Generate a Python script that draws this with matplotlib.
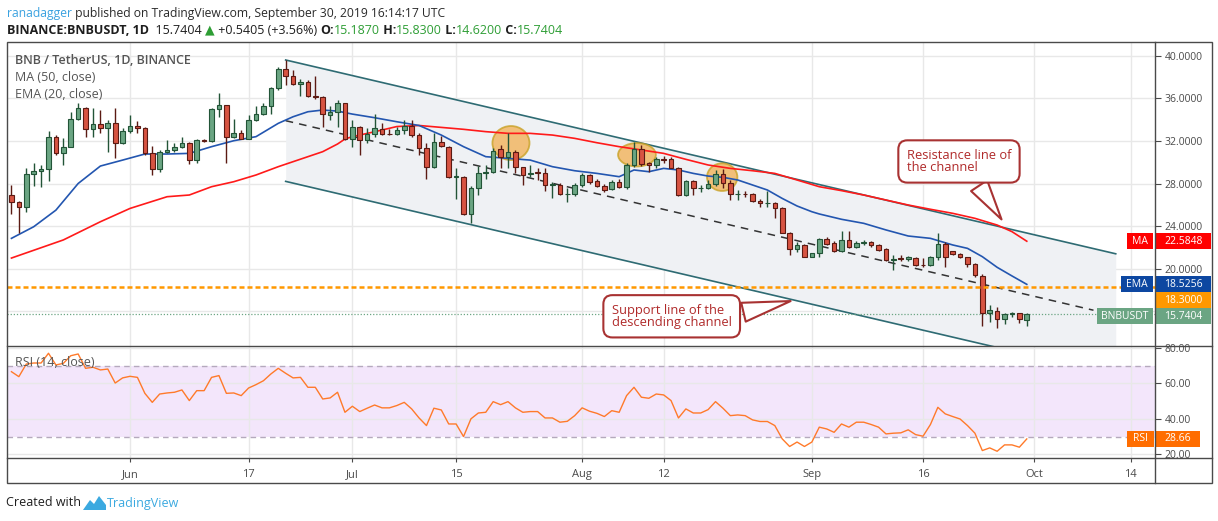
import numpy as np
import matplotlib.pyplot as plt
from matplotlib.patches import Rectangle, Ellipse, Polygon

plt.rcParams['font.family'] = ['Open Sans', 'DejaVu Sans']

W, H = 1218, 521

# ---- values, day 0 = 2019-05-16, last = 2019-09-30 ----
opens = [26.92, 26.30, 25.84, 28.87, 29.19, 29.34, 32.40, 30.90, 31.47, 34.03,
         35.12, 33.09, 33.56, 33.19, 33.66, 31.78, 32.97, 33.41, 33.19, 30.84,
         29.34, 30.94, 31.16, 31.41, 31.78, 30.22, 32.09, 32.00, 34.97, 35.37,
         32.40, 32.72, 32.22, 33.97, 34.53, 35.28, 36.94, 38.72, 38.06, 37.34,
         37.53, 36.20, 36.16, 34.40, 34.68, 35.53, 32.16, 33.34, 32.09, 32.62,
         33.09, 32.65, 32.62, 33.00, 33.41, 32.55, 31.30, 29.52, 31.93, 31.46,
         28.60, 28.64, 25.10, 27.61, 29.00, 29.05, 31.21, 30.46, 30.99, 29.52,
         28.90, 29.00, 28.95, 27.86, 27.86, 27.00, 27.02, 27.86, 28.80, 28.23,
         27.76, 27.45, 28.17, 27.70, 29.74, 31.21, 29.96, 29.71, 30.27, 30.27,
         29.49, 26.92, 28.23, 27.55, 27.55, 27.92, 28.89, 28.08, 26.98, 27.02,
         26.98, 26.36, 26.14, 26.20, 25.67, 23.38, 21.82, 22.22, 21.13, 21.51,
         22.76, 22.45, 21.70, 22.70, 22.01, 22.42, 22.51, 22.23, 21.82, 20.82,
         20.92, 20.88, 20.98, 20.35, 20.35, 21.07, 22.32, 21.66, 21.38, 21.07,
         20.44, 19.35, 15.87, 16.06, 15.25, 15.78, 15.81, 15.187]
highs = [27.86, 26.40, 29.44, 29.90, 29.75, 32.94, 32.56, 32.25, 34.75, 35.59,
         35.22, 35.12, 34.90, 33.97, 35.06, 33.19, 34.44, 33.87, 33.28, 31.53,
         31.16, 32.09, 31.78, 32.34, 31.94, 32.16, 32.16, 35.06, 36.53, 35.40,
         34.03, 33.03, 34.44, 35.28, 35.53, 37.09, 38.90, 39.59, 38.66, 37.78,
         37.72, 38.09, 36.22, 35.31, 35.84, 35.59, 33.97, 33.41, 33.19, 34.53,
         33.72, 33.09, 33.34, 33.97, 33.97, 32.71, 31.77, 32.71, 32.46, 31.52,
         29.42, 28.70, 27.76, 29.64, 29.70, 31.30, 31.61, 32.71, 31.14, 29.58,
         29.70, 29.42, 29.49, 28.17, 28.02, 27.55, 28.02, 28.96, 28.89, 28.39,
         27.95, 28.33, 28.39, 29.89, 31.93, 31.61, 30.05, 30.46, 30.58, 30.52,
         29.58, 28.33, 28.33, 27.86, 28.33, 29.27, 29.33, 28.33, 27.39, 27.33,
         27.08, 26.51, 27.33, 26.29, 25.76, 23.48, 22.54, 22.32, 21.50, 22.85,
         22.95, 22.63, 23.57, 23.57, 22.63, 22.70, 22.57, 22.32, 21.92, 21.29,
         21.29, 21.20, 21.07, 20.98, 21.20, 23.32, 22.54, 21.70, 21.51, 21.13,
         20.50, 19.50, 16.59, 16.44, 15.81, 15.94, 15.87, 15.83]
lows = [25.13, 23.34, 25.28, 27.72, 27.66, 28.19, 30.70, 29.75, 31.40, 33.97,
        32.40, 32.40, 32.72, 31.00, 30.37, 31.72, 32.72, 32.78, 30.70, 28.81,
        29.12, 30.84, 31.00, 31.31, 29.84, 29.90, 31.90, 31.94, 34.28, 29.97,
        32.25, 32.16, 32.16, 33.90, 34.47, 34.53, 36.80, 37.25, 37.25, 36.22,
        36.16, 35.90, 33.28, 33.97, 33.34, 32.09, 31.40, 30.68, 31.78, 32.40,
        32.56, 32.56, 32.56, 32.65, 32.40, 30.68, 28.39, 29.42, 31.46, 28.49,
        26.51, 25.04, 24.32, 26.92, 28.39, 29.02, 29.42, 29.42, 29.02, 27.86,
        28.58, 28.33, 27.33, 26.61, 26.92, 26.29, 26.83, 27.64, 27.95, 27.64,
        27.23, 27.39, 27.55, 27.45, 29.58, 29.64, 29.11, 29.42, 29.89, 29.42,
        26.83, 26.86, 26.92, 27.23, 27.45, 27.76, 27.55, 26.45, 26.45, 26.76,
        26.29, 25.76, 25.76, 24.73, 23.32, 21.29, 21.60, 21.07, 21.07, 21.13,
        22.23, 21.60, 21.60, 21.92, 21.95, 22.23, 22.07, 21.70, 20.76, 19.88,
        20.73, 20.76, 20.29, 20.13, 20.26, 20.82, 20.13, 21.29, 20.98, 20.13,
        19.25, 14.65, 15.03, 14.40, 14.81, 15.44, 14.87, 14.62]
closes = [26.29, 25.84, 28.87, 29.19, 29.34, 32.40, 30.84, 31.47, 34.03, 35.06,
          33.09, 33.56, 33.19, 33.66, 31.78, 32.97, 33.41, 33.19, 30.84, 29.34,
          30.94, 31.16, 31.41, 31.78, 30.22, 32.09, 31.97, 34.97, 35.37, 32.40,
          32.72, 32.22, 33.97, 34.53, 35.28, 36.94, 38.72, 38.09, 37.34, 37.53,
          36.22, 36.15, 34.53, 34.68, 35.53, 32.16, 33.34, 32.09, 32.62, 33.19,
          32.65, 32.62, 33.00, 33.41, 32.56, 31.30, 29.52, 31.93, 31.55, 28.58,
          28.65, 25.10, 27.61, 29.02, 29.05, 31.08, 30.46, 30.93, 29.52, 28.80,
          28.95, 28.98, 27.86, 27.90, 26.98, 27.02, 27.86, 28.80, 28.17, 27.76,
          27.39, 28.17, 27.70, 29.74, 31.21, 29.83, 29.71, 30.27, 30.25, 29.49,
          26.92, 28.23, 27.55, 27.60, 27.92, 28.89, 28.08, 26.98, 27.02, 26.98,
          26.36, 26.14, 26.17, 25.67, 23.38, 21.82, 22.22, 21.13, 21.44, 22.76,
          22.32, 21.70, 22.70, 22.01, 22.45, 22.45, 22.23, 21.76, 20.82, 20.88,
          20.90, 21.07, 20.35, 20.33, 21.07, 22.32, 21.13, 21.38, 21.07, 20.44,
          19.41, 15.87, 16.12, 15.25, 15.72, 15.81, 15.25, 15.7404]
rsi = [66.6, 63.8, 70.9, 71.5, 71.5, 77.0, 70.4, 71.3, 75.6, 76.6,
       68.5, 69.1, 67.6, 68.1, 60.2, 63.1, 64.0, 63.4, 54.4, 49.3,
       54.0, 54.6, 55.0, 56.3, 50.3, 55.9, 55.9, 63.4, 64.4, 54.4,
       54.6, 53.1, 57.4, 59.3, 61.5, 65.3, 68.5, 65.7, 63.1, 63.4,
       57.8, 57.8, 51.2, 51.8, 55.0, 43.7, 47.1, 44.1, 46.0, 47.8,
       46.2, 46.2, 47.5, 49.3, 45.6, 40.5, 36.2, 46.0, 45.0, 37.1,
       37.1, 30.0, 40.0, 43.3, 43.7, 49.7, 48.0, 49.7, 46.2, 43.7,
       44.1, 44.1, 40.5, 40.5, 38.1, 38.6, 41.8, 46.2, 44.3, 43.1,
       41.3, 44.6, 43.7, 53.1, 57.8, 52.2, 51.6, 54.0, 53.5, 50.3,
       40.5, 45.6, 43.3, 43.3, 45.2, 49.7, 46.0, 41.8, 42.2, 41.8,
       39.4, 38.5, 38.5, 36.2, 28.7, 24.4, 26.9, 24.4, 26.9, 35.3,
       34.3, 32.4, 37.1, 35.3, 38.1, 38.1, 36.8, 35.3, 31.5, 31.9,
       32.1, 33.8, 31.1, 30.2, 36.8, 46.5, 42.8, 41.3, 39.9, 36.2,
       31.9, 22.1, 23.6, 21.7, 25.3, 25.3, 24.0, 28.66]

ema_days = [0, 3, 6, 9, 12, 15, 18, 21, 24, 27, 30, 33, 36, 38, 40, 42, 44, 46,
            49, 52, 55, 58, 61, 64, 67, 70, 73, 76, 79, 82, 84, 86, 88, 90, 92,
            94, 96, 98, 100, 102, 104, 106, 108, 109, 112, 115, 118, 121, 124,
            127, 129, 131, 133, 135, 137]
ema_vals = [22.85, 23.94, 25.50, 28.00, 29.64, 30.20, 30.77, 30.77, 30.83,
            31.46, 32.02, 32.40, 33.65, 34.27, 34.74, 34.90, 34.80, 34.52,
            34.18, 33.80, 33.45, 32.55, 31.46, 30.52, 30.36, 30.20, 29.58,
            29.20, 28.95, 28.64, 29.27, 29.11, 29.42, 29.27, 28.95, 28.70,
            28.58, 28.33, 27.86, 27.39, 26.60, 25.89, 25.35, 25.14, 24.64,
            24.26, 23.64, 23.07, 22.85, 22.23, 21.91, 21.13, 20.13, 19.32, 18.53]
ma_days = [0, 7, 12, 16, 21, 24, 27, 30, 33, 36, 38, 40, 42, 44, 45, 46, 49, 52,
           55, 58, 61, 64, 67, 70, 73, 76, 79, 82, 85, 88, 91, 94, 97, 100, 103,
           106, 109, 112, 115, 118, 121, 124, 127, 130, 133, 135, 137]
ma_vals = [21.00, 22.70, 24.41, 25.66, 26.76, 26.92, 27.70, 28.17, 28.80, 29.58,
           30.05, 30.52, 30.99, 31.71, 32.18, 32.40, 32.86, 33.35, 33.45, 33.27,
           33.09, 32.87, 32.71, 32.71, 32.55, 32.24, 31.83, 31.46, 31.15, 30.83,
           30.27, 29.74, 29.42, 29.20, 28.95, 28.33, 27.70, 27.33, 26.92, 26.45,
           25.98, 25.58, 25.20, 24.73, 24.10, 23.48, 22.58]

channel_days = [37, 149]
channel_upper = [39.6, 21.4]
channel_lower = [28.2, 10.0]
mid_days = [37, 146]
mid_vals = [33.9, 16.1]
circle_days = [67.4, 84.4, 95.9]
circle_prices = [31.8, 30.7, 28.6]
circle_w = [5.0, 5.1, 4.1]
circle_h = [3.2, 2.2, 2.6]

ma_last = 22.5848
ema_last = 18.5256
level = 18.30
last_price = 15.7404
rsi_last = 28.66

tick_days = [16, 32, 46, 60, 77, 88, 108, 123, 138, 151]
tick_labels = ['Jun', '17', 'Jul', '15', 'Aug', '12', 'Sep', '16', 'Oct', '14']
price_ticks = [16, 20, 24, 28, 32, 36, 40]
rsi_ticks = [20, 40, 60, 80]

GRID = '#e8e8e8'
AXC = '#4a4a4a'
UP, DOWN = '#6ba583', '#d75442'
UP_E, DOWN_E = '#225437', '#5b1a13'


def px_axes(fig, x0, y0, x1, y1):
    return fig.add_axes([x0 / W, 1 - y1 / H, (x1 - x0) / W, (y1 - y0) / H])


def fx(px):
    # pixel column -> axes fraction of the two chart panes
    return (px - 7) / (1155 - 7)


def stack_tags(values, height):
    # price tags on the axis get pushed down when they would overlap
    order = np.argsort(values)[::-1]
    out = [0.0] * len(values)
    prev = None
    for i in order:
        y = values[i]
        if prev is not None and prev - y < height:
            y = prev - height
        out[i] = y
        prev = y
    return out


def tag(ax, y, h, x0, x1, text, color):
    tr = ax.get_yaxis_transform()
    ax.add_patch(Rectangle((fx(x0), y - h / 2), fx(x1) - fx(x0), h, transform=tr,
                           facecolor=color, lw=0, clip_on=False, zorder=20))
    ax.text((fx(x0) + fx(x1)) / 2, y, text, transform=tr, ha='center',
            va='center', color='white', fontsize=7.5, zorder=21, clip_on=False)


def text_run(ax, x, y, parts, size):
    t = None
    for s, c, w in parts:
        if t is None:
            t = ax.text(x, y, s, color=c, fontweight=w, fontsize=size, va='center')
        else:
            t = ax.annotate(s, xy=(1, 0.5), xycoords=t, va='center', ha='left',
                            color=c, fontweight=w, fontsize=size)
    return t


def style_price_axis(ax, ticks, labels, ylim):
    ax.set_ylim(*ylim)
    ax.set_yticks(ticks)
    ax.set_yticklabels(labels)
    ax.yaxis.tick_right()
    ax.tick_params(axis='y', length=4, width=0.8, color=AXC, labelcolor=AXC,
                   labelsize=7.5, pad=3)
    ax.set_xlim(-0.6, 154.3)
    ax.set_xticks(tick_days)
    ax.grid(True, color=GRID, lw=1)
    ax.set_axisbelow(True)
    for s in ax.spines.values():
        s.set_visible(False)


fig = plt.figure(figsize=(W / 100, H / 100), dpi=100)
fig.patch.set_facecolor('white')

# ---------------- price pane ----------------
ax = px_axes(fig, 7, 42, 1155, 346)
# the 16 label sits under the last-price tag, so only its grid line shows
style_price_axis(ax, price_ticks,
                 ['' if v == 16 else '%.4f' % v for v in price_ticks],
                 (12.74, 41.29))
ax.tick_params(axis='x', length=0, labelbottom=False)

o, h, l, c = map(np.array, (opens, highs, lows, closes))
days = np.arange(len(c))
up = c >= o

ax.fill_between(channel_days, channel_lower, channel_upper, color='#eff1f4',
                lw=0, zorder=0.8)
ax.plot(channel_days, channel_upper, color='#2e6b73', lw=1.2, zorder=1.5)
ax.plot(channel_days, channel_lower, color='#2e6b73', lw=1.2, zorder=1.5)
ax.plot(mid_days, mid_vals, color='#333333', lw=1.1, dashes=(5, 4), zorder=1.5)

for d, p, w, hh in zip(circle_days, circle_prices, circle_w, circle_h):
    ax.add_patch(Ellipse((d, p), w, hh, facecolor='#f2b35a', alpha=0.8,
                         edgecolor='#c9a227', lw=1.3, zorder=2))

ax.plot(ma_days, ma_vals, color='#ff1a1a', lw=1.2, zorder=3)
ax.plot(ema_days, ema_vals, color='#2356b0', lw=1.2, zorder=3)

ax.axhline(last_price, color=UP, lw=0.9, ls=(0, (1, 1.5)), zorder=3)
ax.axhline(level, color='#ff9800', lw=1.8, dashes=(2, 1.2), zorder=6)

ax.vlines(days, l, h, colors=np.where(up, UP_E, DOWN_E), lw=1, zorder=4)
ax.bar(days, np.maximum(np.abs(c - o), 0.06), bottom=np.minimum(o, c),
       width=0.62, color=np.where(up, UP, DOWN),
       edgecolor=np.where(up, UP_E, DOWN_E), lw=0.8, zorder=5)

callout = dict(fontsize=9.3, color='#b02a2a', ha='left', va='center',
               linespacing=0.95, zorder=15,
               bbox=dict(boxstyle='round,pad=0.65,rounding_size=0.7',
                         fc='white', ec='#a83232', lw=1.5))
ax.annotate('Resistance line of\nthe channel', xy=(133.8, 24.41),
            xytext=(120.8, 30.07),
            arrowprops=dict(arrowstyle='wedge,tail_width=1.5,shrink_factor=0.5',
                            fc='white', ec='#a83232', lw=1.5, relpos=(0.62, 0)),
            **callout)
ax.annotate('Support line of the\ndescending channel', xy=(105.5, 17.02),
            xytext=(81.0, 15.53),
            arrowprops=dict(arrowstyle='wedge,tail_width=1.5,shrink_factor=0.5',
                            fc='white', ec='#a83232', lw=1.5, relpos=(1.0, 0.55)),
            **callout)

th = 1.5
ty = stack_tags([ma_last, ema_last, level, last_price], th)
tag(ax, ty[0], th, 1127, 1153, 'MA', '#ff0000')
tag(ax, ty[0], th, 1156, 1211, '%.4f' % ma_last, '#ff0000')
tag(ax, ty[1], th, 1121, 1153, 'EMA', '#0d47a1')
tag(ax, ty[1], th, 1156, 1211, '%.4f' % ema_last, '#0d47a1')
tag(ax, ty[2], th, 1156, 1211, '%.4f' % level, '#ff9800')
tag(ax, ty[3], th, 1097, 1153, 'BNBUSDT', UP)
tag(ax, ty[3], th, 1156, 1211, '%.4f' % last_price, UP)

# ---------------- RSI pane ----------------
ax2 = px_axes(fig, 7, 346, 1155, 458)
style_price_axis(ax2, rsi_ticks, ['%.2f' % v for v in rsi_ticks], (17.9, 81.1))
ax2.set_xticklabels(tick_labels)
ax2.tick_params(axis='x', length=3, width=0.8, color=AXC, labelcolor=AXC,
                labelsize=8, pad=5)
ax2.axhspan(30, 70, color='#f3e6fb', lw=0, zorder=0.3)
for lv in (30, 70):
    ax2.axhline(lv, color='#b5a9bd', lw=1, dashes=(4, 3), zorder=1)
ax2.plot(days, rsi, color='#ff7a2a', lw=1, zorder=3)
rh = 9.5
tag(ax2, rsi_last, rh, 1127, 1154, 'RSI', '#ff6d00')
tag(ax2, rsi_last, rh, 1156, 1200, '%.2f' % rsi_last, '#ff6d00')

# ---------------- frame, legends, header, footer ----------------
ov = fig.add_axes([0, 0, 1, 1])
ov.set_xlim(0, W)
ov.set_ylim(H, 0)
ov.axis('off')
ov.add_patch(Rectangle((7, 42), 1205, 441, fill=False, ec=AXC, lw=1))
ov.plot([1155, 1155], [42, 483], color=AXC, lw=1)
ov.plot([7, 1212], [346, 346], color=AXC, lw=1)
ov.plot([7, 1212], [458, 458], color=AXC, lw=1)

ov.text(15, 60.5, 'BNB / TetherUS, 1D, BINANCE', fontsize=9,
        fontweight='semibold', color='#555555', va='center')
ov.text(15, 77.5, 'MA (50, close)', fontsize=9, color='#555555', va='center')
ov.text(15, 94.5, 'EMA (20, close)', fontsize=9, color='#555555', va='center')
ov.text(15, 363, 'RSI (14, close)', fontsize=9, color='#555555', va='center')

text_run(ov, 7, 13, [('ranadagger', '#3ba2e0', 'normal'),
                     (' published on TradingView.com, September 30, 2019 16:14:17 UTC',
                      '#2a2a2a', 'normal')], 8.7)
green = '#2e9e35'
text_run(ov, 7, 30, [('BINANCE:BNBUSDT, 1D', '#1e1e1e', 'bold'),
                     ('  15.7404 ', '#1e1e1e', 'normal'),
                     ('\u25b2', green, 'normal'),
                     (' +0.5405 (+3.56%) ', '#1e1e1e', 'normal'),
                     ('O:', '#1e1e1e', 'bold'), ('15.1870', green, 'normal'),
                     (' H:', '#1e1e1e', 'bold'), ('15.8300', green, 'normal'),
                     (' L:', '#1e1e1e', 'bold'), ('14.6200', green, 'normal'),
                     (' C:', '#1e1e1e', 'bold'), ('15.7404', green, 'normal')], 9)

ov.text(6, 503, 'Created with', fontsize=9, color='#1e1e1e', va='center')
ov.add_patch(Polygon([(83, 510), (90, 500), (94, 504), (99, 496), (106, 505),
                      (106, 510)], closed=True, fc='#3ba9e0', lw=0))
ov.text(107, 503, 'TradingView', fontsize=9, color='#3ba9e0', va='center')

fig.savefig('out.png', dpi=100)
